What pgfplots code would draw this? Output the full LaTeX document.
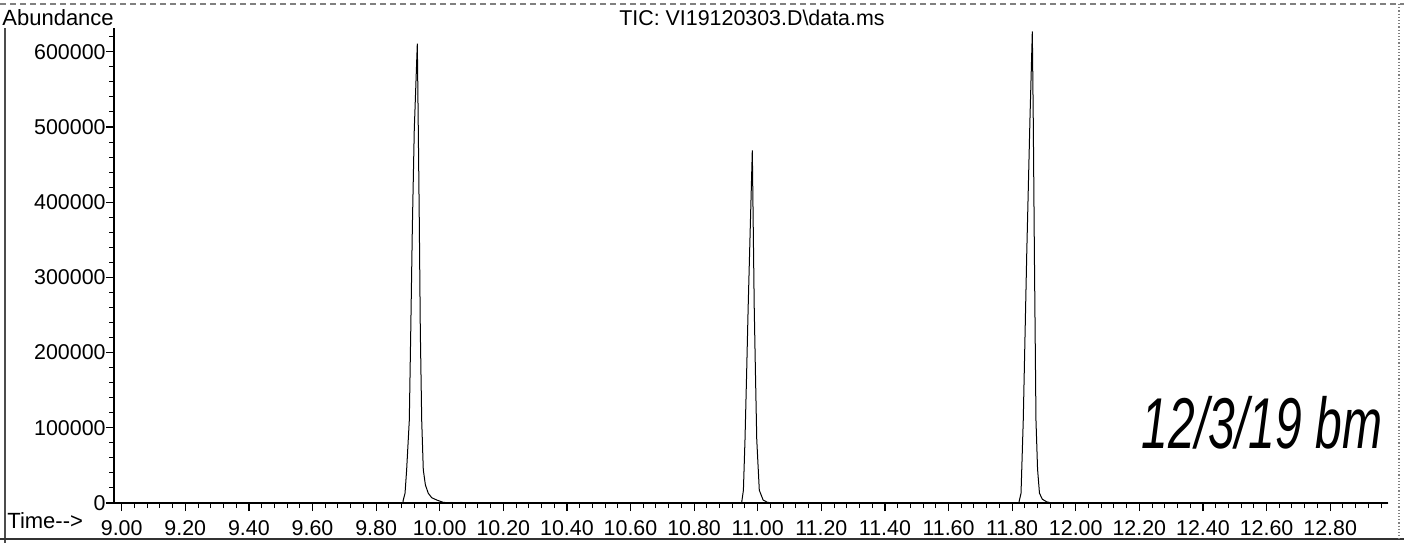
\documentclass[border=0pt]{standalone}
\usepackage{pgfplots}
\pgfplotsset{compat=1.18}
\usepackage{fontspec}
\setmainfont{Liberation Sans}

\begin{document}
\begin{tikzpicture}
\useasboundingbox (0,0) rectangle (702pt,271.5pt);

\begin{axis}[
  at={(57pt,20pt)}, anchor=south west,
  scale only axis, width=637pt, height=237.5pt,
  xmin=8.9758, xmax=12.982, ymin=0, ymax=631650,
  axis x line=bottom, axis y line=left,
  axis line style={-, line width=0.8pt},
  xtick={9.0,9.2,9.4,9.6,9.8,10.0,10.2,10.4,10.6,10.8,11.0,11.2,11.4,11.6,11.8,12.0,12.2,12.4,12.6,12.8},
  minor xtick={9.04,9.08,...,12.97},
  ytick={0,100000,200000,300000,400000,500000,600000},
  minor ytick={20000,40000,...,630000},
  tick align=outside,
  major tick length=4pt, minor tick length=2.5pt,
  tick style={black, line width=0.6pt},
  minor tick style={black, line width=0.5pt},
  scaled y ticks=false,
  /pgf/number format/assume math mode=true,
  xticklabel style={font=\fontsize{10.7}{12}\selectfont, /pgf/number format/fixed, /pgf/number format/fixed zerofill, /pgf/number format/precision=2, anchor=base, inner sep=0pt, yshift=-12pt},
  yticklabel style={font=\fontsize{10.7}{12}\selectfont, /pgf/number format/fixed, /pgf/number format/1000 sep={}, anchor=east, inner sep=0pt},
]
\addplot[black, line width=0.5pt] coordinates {
 (8.976,0) (9.870,0) (9.884,0) (9.8855,4000) (9.891,13000) (9.896,44000) (9.9044,110000)
 (9.909,230000) (9.914,367000) (9.920,496000) (9.9296,611000) (9.9327,496000) (9.936,367000)
 (9.939,230000) (9.9434,110000) (9.9484,44000) (9.955,24000) (9.964,13000) (9.975,7000) (9.9906,4000) (10.010,1000) (10.030,0)
 (10.940,0) (10.949,0) (10.950,2000) (10.955,17000) (10.960,84000) (10.965,170000) (10.970,261000)
 (10.983,469000) (10.989,261000) (10.993,170000) (10.997,84000) (11.005,17000) (11.017,4000) (11.030,1000) (11.045,0)
 (11.810,0) (11.821,0) (11.822,2000) (11.828,13000) (11.835,110000) (11.846,332000)
 (11.856,509000) (11.8635,627000) (11.8665,509000) (11.870,332000) (11.875,110000)
 (11.880,45000) (11.886,13000) (11.895,5000) (11.909,1500) (11.925,0) (12.982,0)
};
\end{axis}

% page frame
\draw[gray, line width=0.6pt, densely dashed] (0,269.5pt) -- (702pt,269.5pt);
\draw[black!70, line width=0.6pt] (2.5pt,257.5pt) -- (2.5pt,0);
\draw[black!80, line width=0.8pt] (0,2pt) -- (702pt,2pt);
\draw[gray, line width=0.6pt, densely dotted] (699.5pt,269.5pt) -- (699.5pt,2pt);

% texts
\node[anchor=base west, inner sep=0pt, font=\fontsize{11}{12}\selectfont] at (1pt,259pt) {Abundance};
\node[anchor=base, inner sep=0pt, font=\fontsize{10.7}{12}\selectfont] at (376pt,259pt) {TIC: VI19120303.D\textbackslash data.ms};
\node[anchor=base west, inner sep=0pt, font=\fontsize{11}{12}\selectfont] at (3.5pt,7.5pt) {Time-{}->};
\node[inner sep=0pt, font=\fontsize{24}{24}\selectfont\itshape, yscale=1.5] at (631pt,60pt) {12/3/19 bm};
\end{tikzpicture}
\end{document}
